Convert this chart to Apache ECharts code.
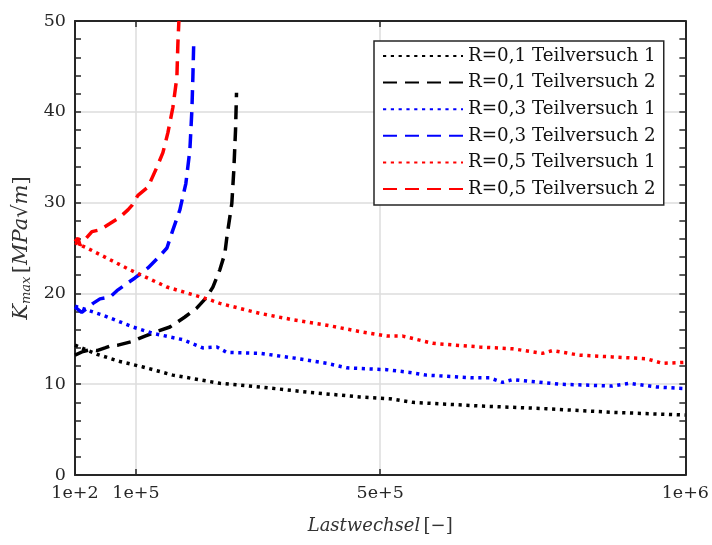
<!DOCTYPE html>
<html>
<head>
<meta charset="utf-8">
<script src="https://cdn.jsdelivr.net/npm/echarts@6/dist/echarts.min.js"></script>
<style>html,body{margin:0;padding:0;background:#fff}#c{width:712px;height:545px}</style>
</head>
<body>
<div id="c"></div>
<script>
// ---- data ----
var xTickValues = [100, 100000, 500000, 1000000];
var xTickLabels = ['1e+2', '1e+5', '5e+5', '1e+6'];
var yTickValues = [0, 10, 20, 30, 40, 50];

var seriesNames = ['R=0,1 Teilversuch 1', 'R=0,1 Teilversuch 2', 'R=0,3 Teilversuch 1',
                   'R=0,3 Teilversuch 2', 'R=0,5 Teilversuch 1', 'R=0,5 Teilversuch 2'];

var r01t1_x = [100, 36100, 73700, 111400, 160500, 237400, 302900, 384700, 466500, 515600, 553200, 662900, 772500, 880500, 1000000];
var r01t1_y = [14.3, 13.3, 12.5, 11.9, 11.0, 10.1, 9.7, 9.1, 8.6, 8.4, 8.0, 7.6, 7.3, 6.9, 6.6];

var r01t2_x = [100, 13200, 24600, 36100, 49200, 57400, 70500, 93400, 114700, 134300, 155600, 180100, 199800, 216100, 226000, 237400, 245600, 248900, 257000, 260300, 263100, 264700];
var r01t2_y = [13.2, 13.6, 13.8, 13.7, 14.0, 14.2, 14.3, 14.7, 15.3, 15.8, 16.3, 17.4, 18.4, 19.6, 20.7, 22.6, 24.4, 26.2, 29.9, 33.6, 38.0, 42.1];

var r03t1_x = [100, 45900, 95000, 127700, 176800, 209600, 232500, 248900, 302900, 356900, 412500, 445200, 510700, 548300, 576100, 651400, 679200, 700500, 716900, 793800, 880500, 908300, 952500, 1000000];
var r03t1_y = [18.6, 17.6, 16.3, 15.6, 14.9, 14.0, 14.1, 13.5, 13.4, 12.9, 12.3, 11.8, 11.6, 11.3, 11.0, 10.7, 10.7, 10.2, 10.5, 10.0, 9.8, 10.1, 9.7, 9.5];

var r03t2_x = [100, 11100, 29600, 41000, 57400, 68800, 85200, 98300, 119600, 135900, 150700, 160500, 171900, 181700, 188300, 191600, 193200, 194800];
var r03t2_y = [18.5, 17.9, 18.9, 19.4, 19.6, 20.3, 21.1, 21.7, 22.8, 23.9, 25.0, 27.0, 29.2, 32.1, 35.8, 40.2, 43.8, 48.1];

var r05t1_x = [100, 19700, 90100, 150700, 221000, 237400, 302900, 356900, 412500, 466500, 510700, 536900, 586000, 662900, 716900, 766000, 782300, 826500, 880500, 936200, 962400, 1000000];
var r05t1_y = [25.6, 25.0, 22.6, 20.7, 19.3, 18.9, 17.8, 17.1, 16.5, 15.8, 15.3, 15.3, 14.5, 14.1, 13.9, 13.4, 13.7, 13.2, 13.0, 12.8, 12.3, 12.4];

var r05t2_x = [100, 5000, 8300, 27900, 41000, 57400, 73700, 86800, 93400, 103200, 119600, 134300, 144100, 152300, 160500, 167000, 168700, 170300];
var r05t2_y = [25.7, 26.1, 25.3, 26.8, 27.0, 27.7, 28.4, 29.2, 29.7, 30.8, 31.7, 33.9, 35.5, 37.7, 40.5, 43.8, 47.6, 50.0];

// ---- build ----
function pairs(xs, ys) { return xs.map(function (x, i) { return [x, ys[i]]; }); }
var FONT = 'DejaVu Serif';
var AX = '#262626';
var DOT = [3.2, 4.6];
var DASH = [14, 8];

function mk(name, xs, ys, color, dash) {
  return {
    name: name, type: 'line', data: pairs(xs, ys), symbol: 'none', smooth: false,
    lineStyle: { color: color, width: 3.5, type: dash, cap: 'butt' },
    itemStyle: { color: color }, silent: true, animation: false
  };
}

var chart = echarts.init(document.getElementById('c'), null, { renderer: 'canvas' });
chart.setOption({
  animation: false,
  backgroundColor: '#fff',
  grid: { left: 75, right: 26, top: 21, bottom: 70 },
  legend: {
    orient: 'vertical', left: 374, top: 41,
    padding: [6, 8, 7, 8], itemGap: 8.6, itemWidth: 80, itemHeight: 20,
    backgroundColor: '#fff', borderColor: AX, borderWidth: 1.5,
    itemStyle: { opacity: 0 },
    textStyle: { fontFamily: FONT, fontSize: 18.3, color: '#111' },
    data: seriesNames
  },
  xAxis: [{
    type: 'value', position: 'bottom', min: 100, max: 1000000,
    name: '{i|Lastwechsel} {n|[−]}', nameLocation: 'middle', nameGap: 42,
    nameTextStyle: { rich: {
      i: { fontFamily: FONT, fontStyle: 'italic', fontSize: 18, color: '#333' },
      n: { fontFamily: FONT, fontSize: 18, color: '#333' } } },
    axisLine: { show: true, onZero: false, lineStyle: { color: AX, width: 2 } },
    axisTick: { show: true, inside: true, length: 6, customValues: xTickValues, lineStyle: { color: AX, width: 1.5 } },
    axisLabel: { show: true, customValues: xTickValues, margin: 9,
      formatter: function (v) { var i = xTickValues.indexOf(v); return i >= 0 ? xTickLabels[i] : ''; },
      fontFamily: FONT, fontSize: 17.5, color: AX },
    splitLine: { show: true, lineStyle: { color: '#dcdcdc', width: 1.5 } }
  }, {
    type: 'value', position: 'top', min: 100, max: 1000000,
    axisLine: { show: true, onZero: false, lineStyle: { color: AX, width: 2 } },
    axisTick: { show: true, inside: true, length: 6, customValues: xTickValues, lineStyle: { color: AX, width: 1.5 } },
    axisLabel: { show: false }, splitLine: { show: false }
  }],
  yAxis: [{
    type: 'value', position: 'left', min: 0, max: 50, interval: 10,
    name: '{k|K}{s|max} {t|[}{m|MPa}{t|√}{m|m}{t|]}', nameLocation: 'middle', nameGap: 40, nameRotate: 90,
    nameTextStyle: { rich: {
      k: { fontFamily: FONT, fontStyle: 'italic', fontSize: 21, color: '#333' },
      s: { fontFamily: FONT, fontStyle: 'italic', fontSize: 13, color: '#333', verticalAlign: 'bottom', padding: [9, 0, 0, 0] },
      m: { fontFamily: FONT, fontStyle: 'italic', fontSize: 21, color: '#333' },
      t: { fontFamily: FONT, fontSize: 21, color: '#333' } } },
    axisLine: { show: true, onZero: false, lineStyle: { color: AX, width: 2 } },
    axisTick: { show: true, inside: true, length: 6, lineStyle: { color: AX, width: 1.5 } },
    minorTick: { show: true, splitNumber: 5, length: 6, lineStyle: { color: AX, width: 1.5 } },
    axisLabel: { show: true, margin: 9, fontFamily: FONT, fontSize: 17.5, color: AX,
      formatter: function (v) { return yTickValues.indexOf(v) >= 0 ? String(v) : ''; } },
    splitLine: { show: true, lineStyle: { color: '#dcdcdc', width: 1.5 } }
  }, {
    type: 'value', position: 'right', min: 0, max: 50, interval: 10,
    axisLine: { show: true, onZero: false, lineStyle: { color: AX, width: 2 } },
    axisTick: { show: true, inside: true, length: 6, lineStyle: { color: AX, width: 1.5 } },
    minorTick: { show: true, splitNumber: 5, length: 6, lineStyle: { color: AX, width: 1.5 } },
    axisLabel: { show: false }, splitLine: { show: false }
  }],
  series: [
    mk(seriesNames[0], r01t1_x, r01t1_y, '#000000', DOT),
    mk(seriesNames[1], r01t2_x, r01t2_y, '#000000', DASH),
    mk(seriesNames[2], r03t1_x, r03t1_y, '#0000ff', DOT),
    mk(seriesNames[3], r03t2_x, r03t2_y, '#0000ff', DASH),
    mk(seriesNames[4], r05t1_x, r05t1_y, '#ff0000', DOT),
    mk(seriesNames[5], r05t2_x, r05t2_y, '#ff0000', DASH)
  ]
});
</script>
</body>
</html>
